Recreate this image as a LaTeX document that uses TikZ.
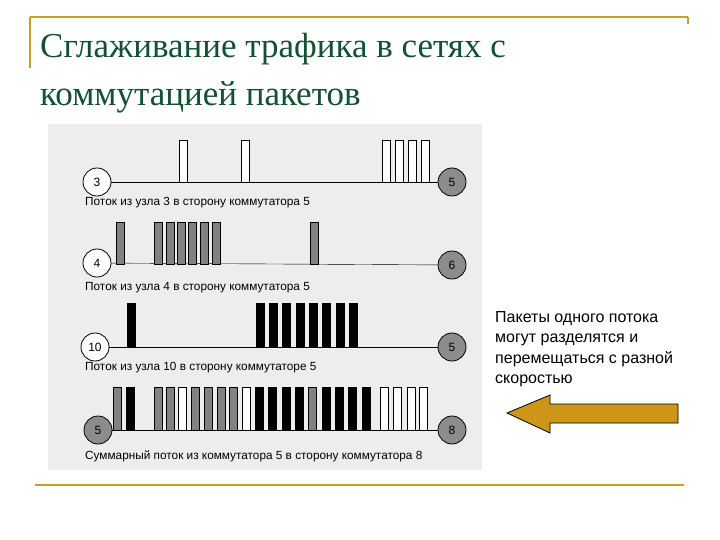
\documentclass[tikz,border=0pt]{standalone}
\usepackage{fontspec}
\setmainfont{Liberation Sans}
\newfontfamily\titlefont{Liberation Serif}
\begin{document}
\begin{tikzpicture}[x=1pt,y=-1pt,
  gold/.style={draw=gold, line width=2pt},
  src/.style={circle, draw, thick, fill=white, minimum size=28pt, inner sep=0pt, font=\fontsize{12}{12}\selectfont},
  dst/.style={circle, draw, thick, fill=graycirc, minimum size=28pt, inner sep=0pt, font=\fontsize{12}{12}\selectfont},
  lbl/.style={anchor=west, inner sep=0pt, font=\fontsize{11.8}{12}\selectfont},
  pw/.style={draw, fill=white},
  pg/.style={draw, fill=graypk},
  pb/.style={draw, fill=black}]
\definecolor{gold}{RGB}{200,160,40}
\definecolor{graycirc}{RGB}{140,140,140}
\definecolor{graypk}{RGB}{130,130,130}
\definecolor{titlegreen}{RGB}{20,80,50}
\definecolor{arrowfill}{RGB}{205,150,25}
\useasboundingbox (0,0) rectangle (720,540);
\fill[white] (0,0) rectangle (720,540);
% decorative lines
\draw[gold] (30,17) -- (688,17);
\draw[gold] (30,17) -- (30,68);
\draw[gold] (688,17) -- (688,24);
\draw[gold] (35,485) -- (684,485);
% title
\node[anchor=base west, inner sep=0pt, text=titlegreen, font=\titlefont\fontsize{35}{35}\selectfont] (t1) at (40,58) {Сглаживание трафика в сетях с};
\node[anchor=base west, inner sep=0pt, text=titlegreen, font=\titlefont\fontsize{35}{35}\selectfont] (t2) at (40,106) {коммутацией пакетов};
% photo background
\fill[black!7] (48,124) rectangle (482,470);
% row 1
\node[src] (a3) at (97,182) {3};
\node[dst] (a5) at (452,182) {5};
\draw (a3) -- (a5);
\foreach \x in {179,241,382,395,408,421} \draw[pw] (\x,182) rectangle ++(8,-42);
\node[lbl] (l1) at (85,203) {Поток из узла 3 в сторону коммутатора 5};
% row 2
\node[src] (b4) at (97,263) {4};
\node[dst] (b6) at (452,265) {6};
\draw (b4) -- (b6);
\foreach \x in {116,154,166,177,188,200,212,310} \draw[pg] (\x,264) rectangle ++(8,-42);
\node[lbl] (l2) at (85,288) {Поток из узла 4 в сторону коммутатора 5};
% row 3
\node[src] (c10) at (95,347) {10};
\node[dst] (c5) at (452,347) {5};
\draw (c10) -- (c5);
\foreach \x in {127,256,269,282,296,309,322,336,349} \draw[pb] (\x,347) rectangle ++(8,-44);
\node[lbl] (l3) at (85,368) {Поток из узла 10 в сторону коммутаторе 5};
% row 4
\node[dst] (d5) at (98,430) {5};
\node[dst] (d8) at (452,430) {8};
\draw (d5) -- (d8);
\foreach \x/\s in {113/pg,126/pb,154/pg,166/pg,178/pw,191/pg,204/pg,217/pg,229/pg,242/pw,255/pb,268/pb,282/pb,295/pb,308/pg,322/pb,335/pb,348/pb,362/pb,380/pw,393/pw,407/pw,419/pw}
  \draw[\s] (\x,430) rectangle ++(8,-43);
\node[lbl] (l4) at (85,456) {Суммарный поток из коммутатора 5 в сторону коммутатора 8};
% note
\node[anchor=north west, inner sep=0pt, align=left, font=\fontsize{16}{20.5}\selectfont] (note) at (495,311) {Пакеты одного потока\\могут разделятся и\\перемещаться с разной\\скоростью};
\coordinate (tip) at (507,413);
\draw[fill=arrowfill, thick] (tip) -- (550,395) -- (550,404) -- (678,404) -- (678,423) -- (550,423) -- (550,433) -- cycle;
\end{tikzpicture}
\end{document}
